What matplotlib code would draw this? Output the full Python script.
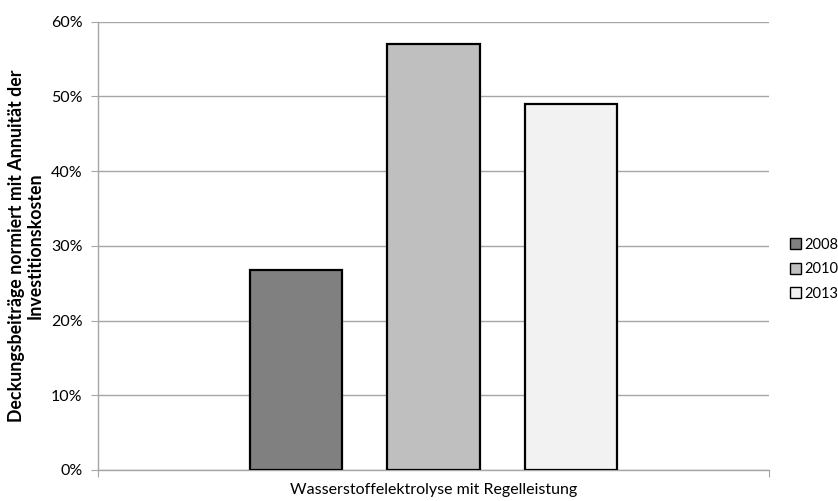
import matplotlib
matplotlib.use("Agg")
import matplotlib.pyplot as plt
from matplotlib.patches import Patch
from matplotlib.ticker import FuncFormatter, FixedLocator

plt.rcParams['font.family'] = ['Lato', 'DejaVu Sans']

category = "Wasserstoffelektrolyse mit Regelleistung"
years = ["2008", "2010", "2013"]
values = [26.8, 57.0, 49.0]
colors = ["#808080", "#bfbfbf", "#f2f2f2"]
y_ticks = [0, 10, 20, 30, 40, 50, 60]

fig = plt.figure(figsize=(8.38, 5.01), dpi=100)
ax = fig.add_axes([0.1169, 0.0619, 0.8008, 0.8948])

bar_w = 0.138
step = 0.205
n = len(years)
for i, (yr, v, c) in enumerate(zip(years, values, colors)):
    x = (i - (n - 1) / 2) * step
    ax.bar(x, v, width=bar_w, color=c, edgecolor="black", linewidth=1.6,
           zorder=3, label=yr)

ax.set_xlim(-0.5, 0.5)
ax.set_ylim(0, 60)
ax.yaxis.set_major_locator(FixedLocator(y_ticks))
ax.yaxis.set_major_formatter(FuncFormatter(lambda v, p: f"{v:.0f}%"))
ax.grid(axis="y", color="#a6a6a6", linewidth=1.0, zorder=0)

ax.set_xticks([-0.5, 0.5])
ax.set_xticklabels(["", ""])
ax.text(0.5, -0.03, category, transform=ax.transAxes, ha="center", va="top",
        fontsize=11.5, color="black")

for s in ["top", "right"]:
    ax.spines[s].set_visible(False)
for s in ["left", "bottom"]:
    ax.spines[s].set_color("#a6a6a6")
    ax.spines[s].set_linewidth(1.0)
ax.tick_params(axis="y", length=5, color="#a6a6a6", labelsize=11.5, pad=6)
ax.tick_params(axis="x", length=5, color="#a6a6a6")

ax.set_ylabel("Deckungsbeiträge normiert mit Annuität der\nInvestitionskosten",
              fontsize=12.8, fontweight="bold", linespacing=1.15, labelpad=5)

handles = [Patch(facecolor=c, edgecolor="black", linewidth=1.0) for c in colors]
fig.legend(handles, years, loc="upper left", bbox_to_anchor=(0.936, 0.537),
           frameon=False, fontsize=10.5, handlelength=0.75, handleheight=0.75,
           handletextpad=0.2, labelspacing=0.72, borderaxespad=0)

fig.savefig("out.png", dpi=100)
